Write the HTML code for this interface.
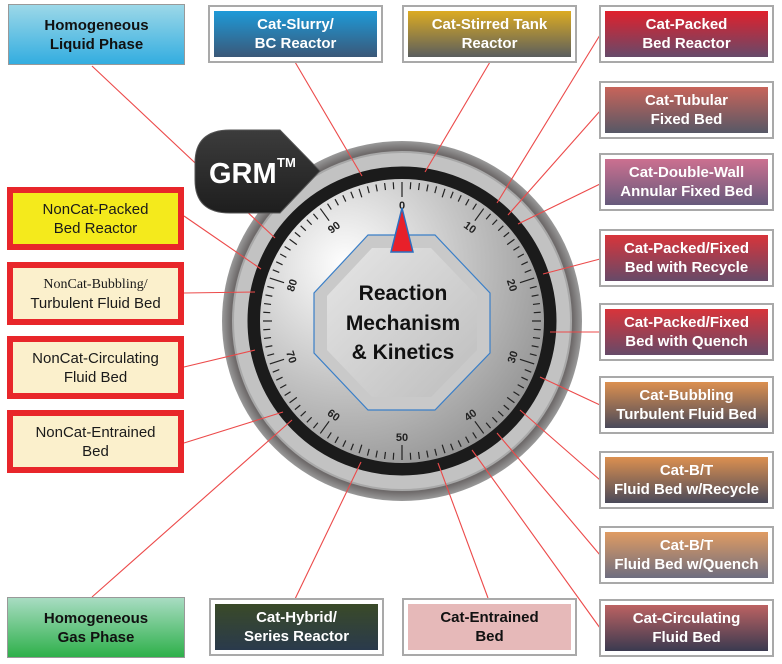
<!DOCTYPE html>
<html><head><meta charset="utf-8"><style>
html,body{margin:0;padding:0;background:#fff;}
body{width:782px;height:664px;position:relative;overflow:hidden;font-family:"Liberation Sans",sans-serif;}
.b{position:absolute;box-sizing:border-box;display:flex;align-items:center;justify-content:center;text-align:center;font-weight:bold;font-size:15px;line-height:19px;color:#fff;}
.fr{position:absolute;box-sizing:border-box;border:2px solid #a9a9a9;background:#fff;width:175px;height:58px;}
.fr .b{left:4px;top:4px;right:4px;bottom:4px;}
.nc{position:absolute;box-sizing:border-box;border:6px solid #e8262a;width:177px;height:63px;display:flex;align-items:center;justify-content:center;text-align:center;font-size:15px;line-height:19px;color:#1a1a1a;background:#fbf0cc;}
svg{position:absolute;left:0;top:0;}
</style></head><body>
<svg width="782" height="664" viewBox="0 0 782 664">
<defs>
<radialGradient id="sh" cx="50%" cy="50%" r="50%"><stop offset="0.85" stop-color="#8e8e8e"/><stop offset="0.95" stop-color="#6e6a6a"/><stop offset="1" stop-color="#9a9a9a"/></radialGradient>
<radialGradient id="face" cx="0.3" cy="0.3" r="0.85"><stop offset="0" stop-color="#ffffff"/><stop offset="0.5" stop-color="#c4c4c4"/><stop offset="1" stop-color="#8c8c8c"/></radialGradient>
<linearGradient id="oct" x1="0" y1="0" x2="1" y2="1"><stop offset="0" stop-color="#e6e6e6"/><stop offset="1" stop-color="#bdbdbd"/></linearGradient>
<linearGradient id="bd" x1="0" y1="0" x2="0" y2="1"><stop offset="0" stop-color="#3c3c3c"/><stop offset="1" stop-color="#1e1e1e"/></linearGradient>
</defs>
<circle cx="402" cy="321" r="180" fill="url(#sh)"/>
<circle cx="402" cy="321" r="169" fill="#c2c2c2" stroke="#a8a8a8" stroke-width="2"/>
<circle cx="402" cy="321" r="148" fill="none" stroke="#1b1b1b" stroke-width="13"/>
<circle cx="402" cy="321" r="142" fill="url(#face)"/>
<g id="ticks" stroke="#222" stroke-width="1.2"></g>
<g id="nums" font-family="Liberation Sans" font-size="11" font-weight="bold" fill="#222" text-anchor="middle"></g>
<polygon points="368,235 435,235 490,293 490,353 435,410 368,410 314,353 314,293" fill="#c9c9c9" stroke="#3a7fc8" stroke-width="1.2"/>
<polygon points="372,248 431,248 477,296 477,350 431,397 372,397 327,350 327,296" fill="url(#oct)"/>
<polygon points="402,208 391,252 413,252" fill="#e8202a" stroke="#2a6fc0" stroke-width="1.5"/>
<g font-family="Liberation Sans" font-weight="bold" font-size="21" fill="#111" text-anchor="middle">
<text x="403" y="300">Reaction</text><text x="403" y="330">Mechanism</text><text x="403" y="359">&amp; Kinetics</text></g>
<g stroke="#ec4a4a" stroke-width="1.1">
<line x1="92" y1="66" x2="275" y2="238"/>
<line x1="295" y1="62" x2="362" y2="176"/>
<line x1="490" y1="62" x2="425" y2="172"/>
<line x1="600" y1="35" x2="497" y2="203"/>
<line x1="600" y1="111" x2="508" y2="215"/>
<line x1="600" y1="184" x2="518" y2="224"/>
<line x1="600" y1="259" x2="543" y2="274"/>
<line x1="600" y1="332" x2="550" y2="332"/>
<line x1="600" y1="405" x2="540" y2="377"/>
<line x1="600" y1="480" x2="520" y2="410"/>
<line x1="600" y1="555" x2="497" y2="433"/>
<line x1="600" y1="628" x2="472" y2="450"/>
<line x1="488" y1="598" x2="438" y2="463"/>
<line x1="295" y1="599" x2="361" y2="462"/>
<line x1="92" y1="597" x2="292" y2="420"/>
<line x1="184" y1="443" x2="283" y2="412"/>
<line x1="184" y1="367" x2="255" y2="350"/>
<line x1="184" y1="293" x2="255" y2="292"/>
<line x1="184" y1="216" x2="261" y2="269"/>
</g>
<path d="M230,130 L280,130 L320,171 L280,213 L230,213 Q195,213 195,180 L195,163 Q195,130 230,130 Z" fill="url(#bd)" stroke="#555" stroke-width="1"/>
<text x="209" y="183" font-family="Liberation Sans" font-weight="bold" font-size="29" fill="#fff">GRM</text>
<text x="277" y="167" font-family="Liberation Sans" font-weight="bold" font-size="13" fill="#fff">TM</text>
<script>
(function(){var t=document.getElementById('ticks'),n=document.getElementById('nums'),ns='http://www.w3.org/2000/svg',cx=402,cy=321;
for(var i=0;i<100;i++){var a=i*3.6*Math.PI/180,r1=139,r2=(i%10==0)?124:(i%5==0?130:132);
var l=document.createElementNS(ns,'line');l.setAttribute('x1',cx+r1*Math.sin(a));l.setAttribute('y1',cy-r1*Math.cos(a));l.setAttribute('x2',cx+r2*Math.sin(a));l.setAttribute('y2',cy-r2*Math.cos(a));t.appendChild(l);
if(i%10==0){var r=116,x=cx+r*Math.sin(a),y=cy-r*Math.cos(a),d=i*3.6;var rot=(d>90&&d<270)?d-180:d;
var tx=document.createElementNS(ns,'text');tx.setAttribute('x',x);tx.setAttribute('y',y+4);tx.setAttribute('transform','rotate('+rot+' '+x+' '+y+')');tx.textContent=i;n.appendChild(tx);}}})();
</script>
</svg>

<div class="b" style="left:8px;top:4px;width:177px;height:61px;border:1px solid #999;background:linear-gradient(#9cd8e8,#33ade0);color:#111;">Homogeneous<br>Liquid Phase</div>
<div class="fr" style="left:208px;top:5px;"><div class="b" style="background:linear-gradient(#1e9ad8,#3a5878);">Cat-Slurry/<br>BC Reactor</div></div>
<div class="fr" style="left:402px;top:5px;"><div class="b" style="background:linear-gradient(#dcab22,#5a5e5e);">Cat-Stirred Tank<br>Reactor</div></div>

<div class="fr" style="left:599px;top:5px;"><div class="b" style="background:linear-gradient(#e0202c,#664a6a);">Cat-Packed<br>Bed Reactor</div></div>
<div class="fr" style="left:599px;top:81px;"><div class="b" style="background:linear-gradient(#c8645a,#565866);">Cat-Tubular<br>Fixed Bed</div></div>
<div class="fr" style="left:599px;top:153px;"><div class="b" style="background:linear-gradient(#cc7090,#665a7c);">Cat-Double-Wall<br>Annular Fixed Bed</div></div>
<div class="fr" style="left:599px;top:229px;"><div class="b" style="background:linear-gradient(#d8343a,#664a68);">Cat-Packed/Fixed<br>Bed with Recycle</div></div>
<div class="fr" style="left:599px;top:303px;"><div class="b" style="background:linear-gradient(#d8343a,#664a68);">Cat-Packed/Fixed<br>Bed with Quench</div></div>
<div class="fr" style="left:599px;top:376px;"><div class="b" style="background:linear-gradient(#dc9050,#4a4a5a);">Cat-Bubbling<br>Turbulent Fluid Bed</div></div>
<div class="fr" style="left:599px;top:451px;"><div class="b" style="background:linear-gradient(#dc9050,#4a4a5a);">Cat-B/T<br>Fluid Bed w/Recycle</div></div>
<div class="fr" style="left:599px;top:526px;"><div class="b" style="background:linear-gradient(#e09c62,#6e6e80);">Cat-B/T<br>Fluid Bed w/Quench</div></div>
<div class="fr" style="left:599px;top:599px;"><div class="b" style="background:linear-gradient(#bc6262,#3a3a50);">Cat-Circulating<br>Fluid Bed</div></div>

<div class="nc" style="left:7px;top:187px;background:#f4ea1c;">NonCat-Packed<br>Bed Reactor</div>
<div class="nc" style="left:7px;top:262px;"><span><span style="font-family:'Liberation Serif',serif;font-size:14px;">NonCat-Bubbling/</span><br>Turbulent Fluid Bed</span></div>
<div class="nc" style="left:7px;top:336px;">NonCat-Circulating<br>Fluid Bed</div>
<div class="nc" style="left:7px;top:410px;">NonCat-Entrained<br>Bed</div>

<div class="b" style="left:7px;top:597px;width:178px;height:61px;border:1px solid #999;background:linear-gradient(#a8dcc2,#2eb04a);color:#111;">Homogeneous<br>Gas Phase</div>
<div class="fr" style="left:209px;top:598px;"><div class="b" style="background:linear-gradient(#3a4a28,#2a3a4c);">Cat-Hybrid/<br>Series Reactor</div></div>
<div class="fr" style="left:402px;top:598px;"><div class="b" style="background:#e6b9b9;color:#111;">Cat-Entrained<br>Bed</div></div>
</body></html>
